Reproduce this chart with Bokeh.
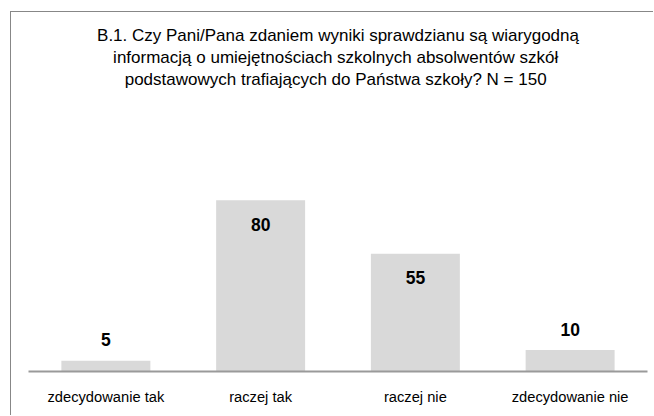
from bokeh.plotting import figure
from bokeh.models import Range1d, ColumnDataSource, Title
from bokeh.core.properties import value
from bokeh.embed import file_html
from bokeh.resources import INLINE

categories = ["zdecydowanie tak", "raczej tak", "raczej nie", "zdecydowanie nie"]
counts = [5, 80, 55, 10]
title_lines = [
    "B.1. Czy Pani/Pana zdaniem wyniki sprawdzianu są wiarygodną",
    "informacją o umiejętnościach szkolnych absolwentów  szkół",
    "podstawowych trafiających do Państwa szkoły?  N = 150",
]

FONT = "Liberation Sans"

p = figure(x_range=categories, y_range=Range1d(0, 100), width=643, height=404,
           output_backend="svg", toolbar_location=None,
           min_border_left=17, min_border_right=7, min_border_bottom=45,
           min_border_top=145, margin=(11, 0, 0, 10),
           styles={"border-left": "1px solid #878787", "border-top": "1px solid #878787"})
p.title = None
# spacer between the chart and the title block
p.add_layout(Title(text=" ", text_font=FONT, text_font_size="17px", standoff=47), "above")
for line in reversed(title_lines):
    p.add_layout(Title(text=line, align="center", text_font=FONT,
                       text_font_size="17px", text_font_style="normal",
                       text_color="#000000", standoff=1), "above")
p.outline_line_color = None
p.grid.visible = False
p.yaxis.visible = False

src = ColumnDataSource(dict(cat=categories, val=counts,
                            off=[24 if v >= 20 else -21 for v in counts]))
p.vbar(x="cat", top="val", width=0.575, source=src, fill_color="#d9d9d9", line_color=None)
p.text(x="cat", y="val", text="val", y_offset="off", source=src,
       text_align="center", text_baseline="middle",
       text_font=value(FONT), text_font_size="17.5px", text_font_style="bold",
       text_color="#000000")

ax = p.xaxis[0]
ax.axis_line_color = "#9a9a9a"
ax.axis_line_width = 2
ax.major_tick_line_color = None
ax.minor_tick_line_color = None
ax.major_label_text_font = FONT
ax.major_label_text_font_size = "14.7px"
ax.major_label_text_color = "#000000"
ax.major_label_standoff = 11

open("out.html", "w").write(file_html(p, INLINE))
